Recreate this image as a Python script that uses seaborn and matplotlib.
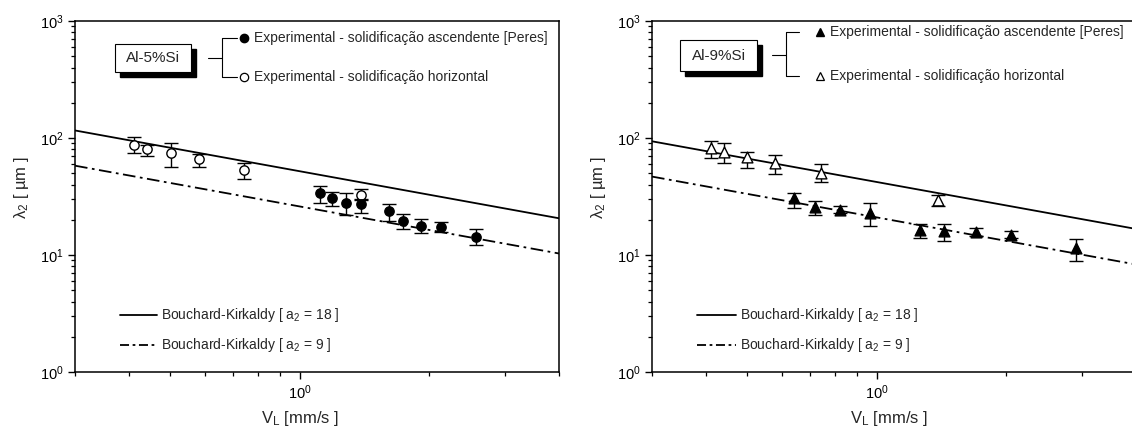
import numpy as np
import pandas as pd
import matplotlib
matplotlib.use("Agg")
import matplotlib.pyplot as plt
import seaborn as sns
from matplotlib.patches import Rectangle
from matplotlib.lines import Line2D
from matplotlib.ticker import LogLocator, NullFormatter

# ---------------- data ----------------
# Al-5%Si
h5_v = [0.411, 0.442, 0.501, 0.582, 0.741, 1.39]
h5_l = [87, 80, 74, 66, 53, 32.6]
h5_lo = [74, 70, 57, 57, 45, 29.5]
h5_hi = [101, 87, 90, 72.5, 61, 36.6]

a5_v = [1.114, 1.19, 1.28, 1.39, 1.61, 1.74, 1.91, 2.13, 2.56]
a5_l = [33.7, 30.5, 28, 27.1, 23.9, 19.6, 17.7, 17.4, 14.3]
a5_lo = [27.7, 26.2, 22, 22.7, 19.6, 16.7, 15.3, 15.8, 12.2]
a5_hi = [39, 34.3, 33.7, 30, 27.1, 22.4, 20.4, 19.3, 16.7]

# Al-9%Si
h9_v = [0.412, 0.442, 0.50, 0.58, 0.743, 1.387]
h9_l = [81.7, 76, 69, 61.5, 49.9, 29.5]
h9_lo = [68, 61, 55, 49, 41.8, 26.2]
h9_hi = [94.8, 90, 75.5, 71.6, 60, 32.6]

a9_v = [0.641, 0.717, 0.819, 0.961, 1.258, 1.432, 1.695, 2.05, 2.9]
a9_l = [30.5, 25.6, 24.2, 23, 16.4, 16.1, 15.6, 14.8, 11.4]
a9_lo = [25.1, 22, 22.9, 17.7, 13.9, 13.3, 14.5, 13.9, 8.8]
a9_hi = [34.1, 28.9, 26, 27.7, 18.4, 18.4, 16.9, 16, 13.6]

# Bouchard-Kirkaldy lines (end points)
bk_v = [0.3, 4.0]
bk5_18 = [116, 20.6]
bk5_9 = [58, 10.3]
bk9_18 = [93.7, 16.7]
bk9_9 = [46.8, 8.3]

alloys = ["Al-5%Si", "Al-9%Si"]
exp_labels = ["Experimental - solidificação ascendente [Peres]",
              "Experimental - solidificação horizontal"]
bk_labels = ["Bouchard-Kirkaldy [ a$_2$ = 18 ]", "Bouchard-Kirkaldy [ a$_2$ = 9 ]"]

# ---------------- style ----------------
sns.set_style("ticks")
plt.rcParams["font.family"] = ["Liberation Sans", "DejaVu Sans"]
plt.rcParams["mathtext.default"] = "regular"
plt.rcParams["axes.linewidth"] = 1.1

W, H = 1132, 438
fig = plt.figure(figsize=(W / 100, H / 100), dpi=100)
fig.patch.set_facecolor("white")

def fx(x):
    return x / W

def fy(y):
    return 1 - y / H

DASHDOT = (0, (7, 2.5, 1.5, 2.5))

panels = [
    dict(left=75, h_v=h5_v, h_l=h5_l, h_lo=h5_lo, h_hi=h5_hi,
         a_v=a5_v, a_l=a5_l, a_lo=a5_lo, a_hi=a5_hi,
         l18=bk5_18, l9=bk5_9, marker="o", title=alloys[0],
         box=(115, 44, 191, 72), conn=(208, 222, 58), br=(222, 38, 77, 237),
         mk_x=244, tx=254, leg=(120, 157, 161, 315, 345), xlab=300),
    dict(left=652, h_v=h9_v, h_l=h9_l, h_lo=h9_lo, h_hi=h9_hi,
         a_v=a9_v, a_l=a9_l, a_lo=a9_lo, a_hi=a9_hi,
         l18=bk9_18, l9=bk9_9, marker="^", title=alloys[1],
         box=(680, 40, 757, 71), conn=(772, 786, 55), br=(786, 32, 76, 799),
         mk_x=820, tx=830, leg=(697, 736, 740, 315, 345), xlab=889),
]

AX_W = 484
for p in panels:
    ax = fig.add_axes([fx(p["left"]), fy(372), AX_W / W, (372 - 21) / H])
    ax.set_xscale("log")
    ax.set_yscale("log")

    # theory lines
    df18 = pd.DataFrame({"V": bk_v, "lam": p["l18"]})
    df9 = pd.DataFrame({"V": bk_v, "lam": p["l9"]})
    sns.lineplot(data=df18, x="V", y="lam", ax=ax, color="black", lw=1.3)
    sns.lineplot(data=df9, x="V", y="lam", ax=ax, color="black", lw=1.3,
                 linestyle=DASHDOT)

    # error bars
    for v, l, lo, hi in [(p["h_v"], p["h_l"], p["h_lo"], p["h_hi"]),
                         (p["a_v"], p["a_l"], p["a_lo"], p["a_hi"])]:
        l = np.array(l); lo = np.array(lo); hi = np.array(hi)
        ax.errorbar(v, l, yerr=[l - lo, hi - l], fmt="none", ecolor="black",
                    elinewidth=1.0, capsize=4.8, capthick=1.0, zorder=3)

    ms = 45 if p["marker"] == "o" else 60
    sns.scatterplot(x=p["h_v"], y=p["h_l"], ax=ax, marker=p["marker"], s=ms,
                    facecolor="white", edgecolor="black", linewidth=1.0, zorder=4)
    sns.scatterplot(x=p["a_v"], y=p["a_l"], ax=ax, marker=p["marker"], s=ms,
                    color="black", edgecolor="black", linewidth=1.0, zorder=4)

    ax.set_xlim(0.3, 4.0)
    ax.set_ylim(1, 1000)
    ax.xaxis.set_major_locator(LogLocator(base=10, numticks=10))
    ax.xaxis.set_minor_locator(LogLocator(base=10, subs=np.arange(2, 10), numticks=10))
    ax.xaxis.set_minor_formatter(NullFormatter())
    ax.yaxis.set_major_locator(LogLocator(base=10, numticks=10))
    ax.yaxis.set_minor_locator(LogLocator(base=10, subs=np.arange(2, 10), numticks=10))
    ax.yaxis.set_minor_formatter(NullFormatter())
    ax.tick_params(which="major", direction="out", length=5, width=1.0,
                   labelsize=10.5, color="black", labelcolor="black", pad=3)
    ax.tick_params(which="minor", direction="out", length=3, width=0.9, color="black")
    for s in ax.spines.values():
        s.set_visible(True)
        s.set_color("black")
        s.set_linewidth(1.1)
    ax.set_xlabel("V$_L$ [mm/s ]", fontsize=12)
    ax.set_ylabel("λ$_2$ [ µm ]", fontsize=12)
    ax.xaxis.set_label_coords((p["xlab"] - p["left"]) / AX_W, -0.105)
    ax.yaxis.set_label_coords(-0.09, 0.525)
    ax.set_facecolor("white")

    # bottom legend (lines + labels)
    l0, l1, ltx, ly1, ly2 = p["leg"]
    fig.add_artist(Line2D([fx(l0), fx(l1)], [fy(ly1), fy(ly1)], color="black", lw=1.3))
    fig.add_artist(Line2D([fx(l0), fx(l1)], [fy(ly2), fy(ly2)], color="black", lw=1.3,
                          linestyle=(0, (5, 2, 1.5, 2))))
    fig.text(fx(ltx), fy(ly1), bk_labels[0], ha="left", va="center", fontsize=10)
    fig.text(fx(ltx), fy(ly2), bk_labels[1], ha="left", va="center", fontsize=10)

    # top legend box with shadow
    x0, y0, x1, y1 = p["box"]
    fig.patches.append(Rectangle((fx(x0 + 5), fy(y1 + 5)), (x1 - x0) / W, (y1 - y0) / H,
                                 transform=fig.transFigure, facecolor="black",
                                 edgecolor="black", zorder=5))
    fig.patches.append(Rectangle((fx(x0), fy(y1)), (x1 - x0) / W, (y1 - y0) / H,
                                 transform=fig.transFigure, facecolor="white",
                                 edgecolor="black", lw=0.8, zorder=6))
    fig.text(fx((x0 + x1) / 2), fy((y0 + y1) / 2), p["title"], ha="center",
             va="center", fontsize=11, zorder=7)
    c0, c1, cy = p["conn"]
    fig.add_artist(Line2D([fx(c0), fx(c1)], [fy(cy), fy(cy)], color="black", lw=0.8))
    bx, bt, bb, bx2 = p["br"]
    fig.add_artist(Line2D([fx(bx2), fx(bx), fx(bx), fx(bx2)],
                          [fy(bt), fy(bt), fy(bb), fy(bb)], color="black", lw=0.8))
    fig.add_artist(Line2D([fx(p["mk_x"])], [fy(bt)], marker=p["marker"], ms=6,
                          color="black", mfc="black", lw=0))
    fig.add_artist(Line2D([fx(p["mk_x"])], [fy(bb)], marker=p["marker"], ms=6,
                          color="black", mfc="white", mew=0.9, lw=0))
    fig.text(fx(p["tx"]), fy(bt), exp_labels[0], ha="left", va="center", fontsize=10)
    fig.text(fx(p["tx"]), fy(bb), exp_labels[1], ha="left", va="center", fontsize=10)

fig.savefig("out.png", dpi=100, facecolor="white")
